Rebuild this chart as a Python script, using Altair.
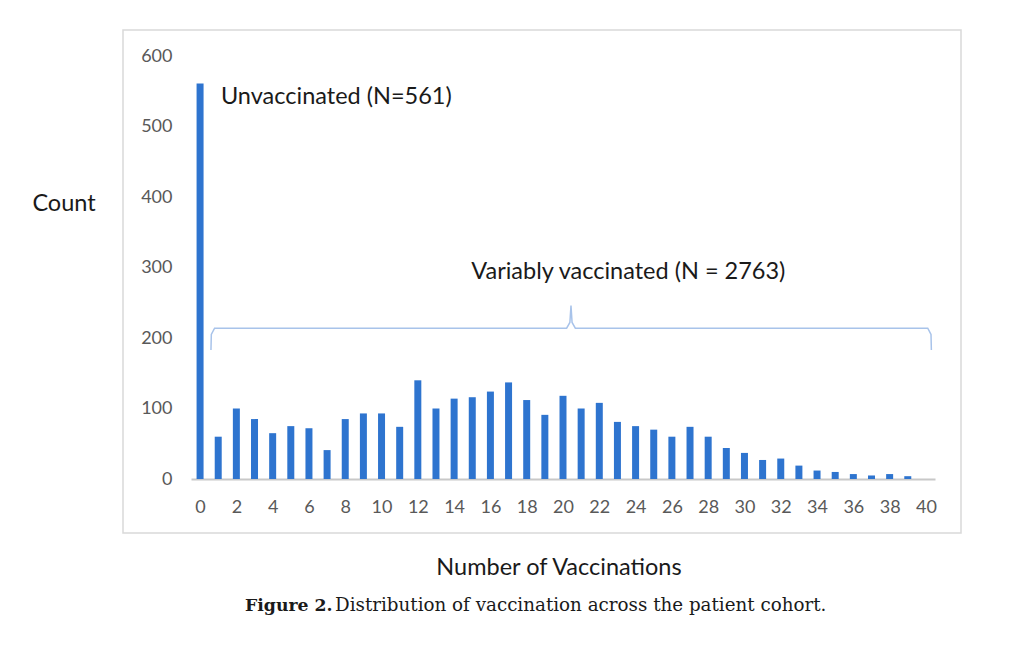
import altair as alt
import pandas as pd

# Data
vaccinations = list(range(0, 40))
counts = [561, 60, 100, 85, 65, 75, 72, 41, 85, 93,
          93, 74, 140, 100, 114, 116, 124, 137, 112, 91,
          118, 100, 108, 81, 75, 70, 60, 74, 60, 44,
          37, 27, 29, 19, 12, 10, 7, 5, 7, 4]
x_ticks = list(range(0, 41, 2))
y_ticks = list(range(0, 601, 100))

# curly brace (data coordinates)
brace_x = [0.6, 0.62, 0.8, 20.2, 20.38, 20.44, 20.5, 20.68, 40.1, 40.28, 40.3]
brace_y = [183, 205, 214, 214, 222, 246, 222, 214, 214, 205, 183]

bars_df = pd.DataFrame({"v": vaccinations, "count": counts})
brace_df = pd.DataFrame({"v": brace_x, "count": brace_y, "o": list(range(len(brace_x)))})

FONT = "Lato"
GRAY = "#595959"

x_axis = alt.Axis(values=x_ticks, format="d", grid=False, ticks=False,
                  domainColor="#c8c8c8", domainWidth=2, labelPadding=19,
                  labelFontSize=18, labelColor=GRAY, labelFont=FONT,
                  labelOverlap=False, labelBound=False, title=None)
y_axis = alt.Axis(values=y_ticks, grid=False, ticks=False, domain=False,
                  labelPadding=19, labelFontSize=18, labelColor=GRAY,
                  labelFont=FONT, title=None)
x_scale = alt.Scale(domain=[-0.5, 40.5], nice=False, zero=False, padding=0)
y_scale = alt.Scale(domain=[0, 600], nice=False)

def xe():
    return alt.X("v:Q", scale=x_scale, axis=x_axis)

def ye():
    return alt.Y("count:Q", scale=y_scale, axis=y_axis)

bars = alt.Chart(bars_df).mark_bar(width=7, color="#2e74cf").encode(x=xe(), y=ye())

brace = alt.Chart(brace_df).mark_line(color="#a8c3ea", strokeWidth=1.5).encode(
    x=xe(), y=ye(), order="o:Q")

ann1 = alt.Chart(pd.DataFrame({"v": [1.15], "count": [542], "t": ["Unvaccinated (N=561)"]})).mark_text(
    align="left", baseline="middle", fontSize=23.5, font=FONT, color="#1a1a1a").encode(
    x=xe(), y=ye(), text="t:N")
ann2 = alt.Chart(pd.DataFrame({"v": [23.6], "count": [294], "t": ["Variably vaccinated (N = 2763)"]})).mark_text(
    align="center", baseline="middle", fontSize=23.5, font=FONT, color="#1a1a1a").encode(
    x=xe(), y=ye(), text="t:N")

box = alt.Chart(pd.DataFrame({"a": [0]})).mark_rect(
    fill=None, stroke="#d9d9d9", strokeWidth=1.5).encode(
    x=alt.value(-68), x2=alt.value(770), y=alt.value(-26), y2=alt.value(477))

def label(text, x, y, size, font, weight="normal", align="center", color="#1a1a1a"):
    return alt.Chart(pd.DataFrame({"t": [text]})).mark_text(
        align=align, baseline="middle", fontSize=size, font=font,
        fontWeight=weight, color=color).encode(
        x=alt.value(x), y=alt.value(y), text="t:N")

count_lbl = label("Count", -127, 148, 23.5, FONT)
xtitle = label("Number of Vaccinations", 368, 512, 23.5, FONT)
cap_bold = label("Figure 2.", 54, 550, 17.3, "DejaVu Serif", weight="bold", align="left")
cap_rest = label("Distribution of vaccination across the patient cohort.", 144, 550, 18.3,
                 "DejaVu Serif", align="left")

chart = alt.layer(box, bars, brace, ann1, ann2, count_lbl, xtitle, cap_bold, cap_rest).properties(
    width=744, height=423,
    padding={"left": 191, "top": 56, "right": 89, "bottom": 169},
    autosize=alt.AutoSizeParams(type="none"),
    background="white",
).configure_view(stroke=None).configure_axis(labelOverlap=False)

chart.save("out.html", embed_options={"renderer": "svg", "actions": False})
